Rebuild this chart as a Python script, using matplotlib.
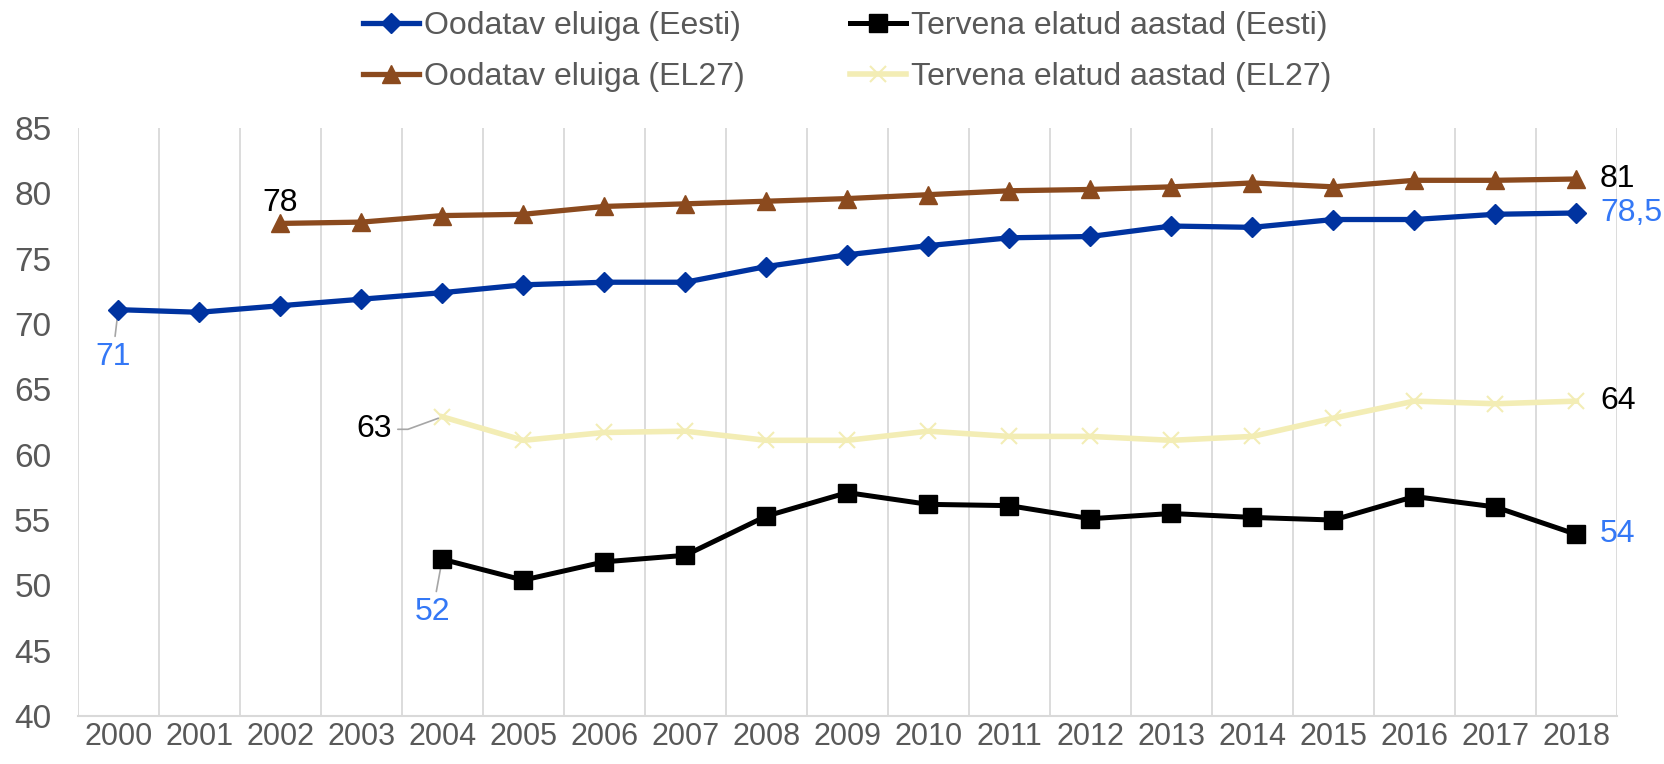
import numpy as np
import matplotlib.pyplot as plt

plt.rcParams['font.family'] = ['Liberation Sans', 'DejaVu Sans']

aastad = [str(a) for a in range(2000, 2019)]

# Oodatav eluiga (Eesti), 2000-2018
eluiga_eesti = [71.1, 70.9, 71.4, 71.9, 72.4, 73.0, 73.2, 73.2, 74.4, 75.3,
                76.0, 76.6, 76.7, 77.5, 77.4, 78.0, 78.0, 78.4, 78.5]
# Oodatav eluiga (EL27), 2002-2018
eluiga_el27 = [None, None, 77.7, 77.8, 78.3, 78.4, 79.0, 79.2, 79.4, 79.6,
               79.9, 80.2, 80.3, 80.5, 80.8, 80.5, 81.0, 81.0, 81.1]
# Tervena elatud aastad (Eesti), 2004-2018
tervena_eesti = [None, None, None, None, 52.0, 50.4, 51.8, 52.3, 55.3, 57.1,
                 56.2, 56.1, 55.1, 55.5, 55.2, 55.0, 56.8, 56.0, 53.9]
# Tervena elatud aastad (EL27), 2004-2018
tervena_el27 = [None, None, None, None, 62.9, 61.1, 61.7, 61.8, 61.1, 61.1,
                61.8, 61.4, 61.4, 61.1, 61.4, 62.8, 64.1, 63.9, 64.1]

def arr(v):
    return np.array([np.nan if x is None else x for x in v], dtype=float)

x = np.arange(len(aastad))
sinine = '#0033A0'
pruun = '#8B4A1E'
kollane = '#F3EDB5'
helesinine = '#3478F6'
hall = '#595959'

fig = plt.figure(figsize=(16.64, 7.64), dpi=100)
ax = fig.add_axes([0.0467, 0.0628, 0.9250, 0.7696])

l1, = ax.plot(x, arr(eluiga_eesti), color=sinine, lw=3.8, marker='D', ms=10,
              label='Oodatav eluiga (Eesti)', zorder=4)
l2, = ax.plot(x, arr(tervena_eesti), color='black', lw=3.6, marker='s', ms=13,
              label='Tervena elatud aastad (Eesti)', zorder=4)
l3, = ax.plot(x, arr(eluiga_el27), color=pruun, lw=3.8, marker='^', ms=13.5,
              label='Oodatav eluiga (EL27)', zorder=4)
l4, = ax.plot(x, arr(tervena_el27), color=kollane, lw=4, marker='x', ms=11, mew=1.5,
              label='Tervena elatud aastad (EL27)', zorder=3)

ax.set_xlim(-0.5, len(aastad) - 0.5)
ax.set_ylim(40, 85)
ax.set_yticks(range(40, 86, 5))
ax.set_xticks(x)
ax.set_xticklabels(aastad)
ax.set_xticks(np.arange(-0.5, len(aastad), 1.0), minor=True)
ax.grid(which='minor', axis='x', color='#D9D9D9', lw=1.3)
ax.tick_params(which='both', length=0)
ax.tick_params(axis='y', labelsize=24, labelcolor=hall, pad=19)
ax.tick_params(axis='x', labelsize=22, labelcolor=hall, pad=4)
for s in ['top', 'right', 'left']:
    ax.spines[s].set_visible(False)
ax.spines['bottom'].set_color('#D9D9D9')
ax.spines['bottom'].set_linewidth(1.5)

fs = 23
leader = dict(arrowstyle='-', color='#A6A6A6', lw=1.2, shrinkA=2, shrinkB=3)

# andmesildid
ax.annotate('71', (0, eluiga_eesti[0]), xytext=(-4, -34), textcoords='offset points',
            ha='center', va='center', fontsize=fs, color=helesinine, arrowprops=leader)
ax.annotate('78', (2, eluiga_el27[2]), xytext=(0, 15), textcoords='offset points',
            ha='center', va='center', fontsize=fs, color='black')
ax.annotate('63', (4, tervena_el27[4]), xytext=(-36, -9), textcoords='offset points',
            ha='right', va='center', fontsize=fs, color='black',
            arrowprops=dict(leader, connectionstyle='angle,angleA=0,angleB=20,rad=0'))
ax.annotate('52', (4, tervena_eesti[4]), xytext=(-7, -38), textcoords='offset points',
            ha='center', va='center', fontsize=fs, color=helesinine, arrowprops=leader)

last = len(aastad) - 1
for val, tekst, col in [(eluiga_el27[last], '81', 'black'),
                        (eluiga_eesti[last], '78,5', helesinine),
                        (tervena_el27[last], '64', 'black'),
                        (tervena_eesti[last], '54', helesinine)]:
    ax.annotate(tekst, (last, val), xytext=(17, 0), textcoords='offset points',
                ha='left', va='center', fontsize=fs, color=col, annotation_clip=False)

leg = fig.legend(handles=[l1, l3, l2, l4], loc='upper center',
                 bbox_to_anchor=(0.509, 1.006), ncol=2,
                 frameon=False, fontsize=23, handlelength=1.75, handletextpad=0.15,
                 columnspacing=3.3, labelspacing=0.65, numpoints=1, borderpad=0)
for t in leg.get_texts():
    t.set_color(hall)

fig.savefig('out.png', dpi=100)
